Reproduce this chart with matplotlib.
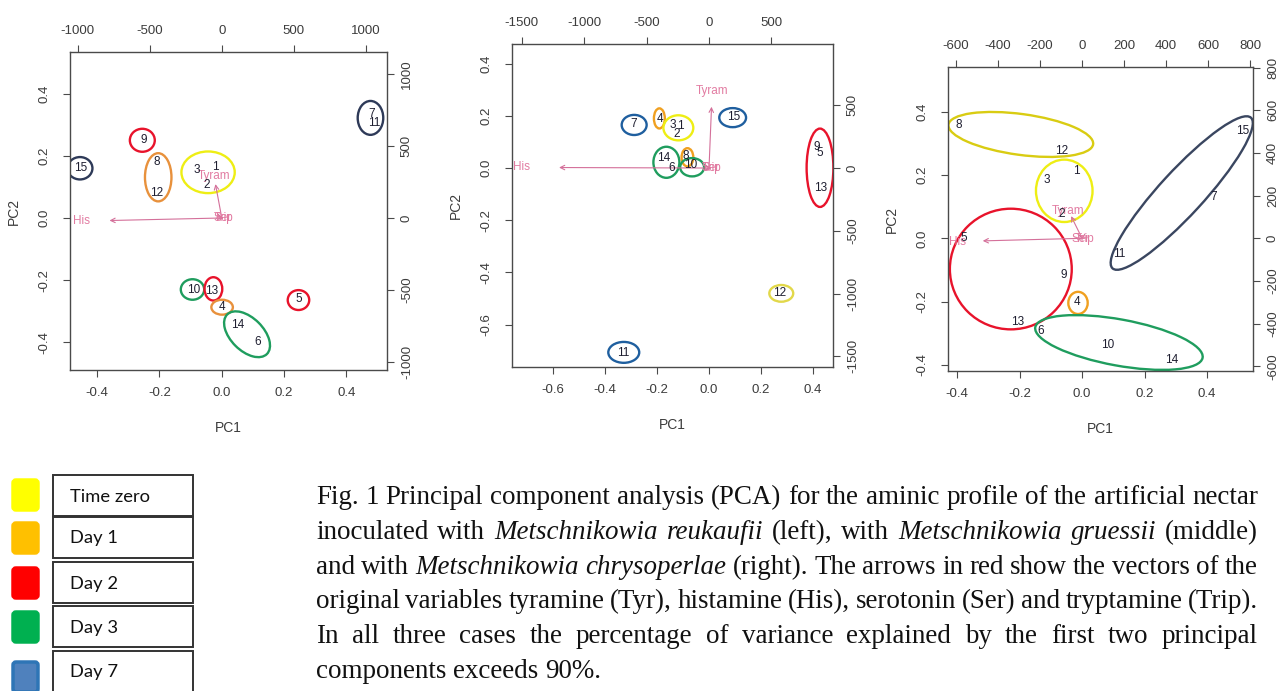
import matplotlib
matplotlib.use("Agg")
import matplotlib.pyplot as plt
from matplotlib.patches import Ellipse, Rectangle, FancyBboxPatch

plt.rcParams["axes.unicode_minus"] = False
plt.rcParams["font.family"] = ["Liberation Sans", "DejaVu Sans"]

W_PX, H_PX, DPI = 1287, 691, 100

# ---------------------------------------------------------------- data
sample_ids = ["1", "2", "3", "4", "5", "6", "7", "8", "9", "10",
              "11", "12", "13", "14", "15"]
amines = ["His", "Tyram", "Ser", "Trip"]

# Metschnikowia reukaufii: sample scores
reuk_pc1 = [-0.022, -0.048, -0.080, 0.000, 0.246, 0.114, 0.480, -0.208,
            -0.250, -0.090, 0.490, -0.208, -0.032, 0.050, -0.454]
reuk_pc2 = [0.164, 0.106, 0.154, -0.285, -0.260, -0.400, 0.335, 0.180,
            0.250, -0.232, 0.305, 0.080, -0.234, -0.345, 0.160]
# variable loadings (secondary axis units)
reuk_load1 = [-975, -55, 5, 15]
reuk_load2 = [-22, 295, -2, -3]
# sampling-day ellipses
reuk_ell_x = [-0.255, -0.455, -0.204, -0.044, 0.477, -0.094, -0.027, 0.001, 0.246, 0.081]
reuk_ell_y = [0.250, 0.160, 0.131, 0.147, 0.322, -0.230, -0.228, -0.287, -0.264, -0.374]
reuk_ell_w = [0.080, 0.080, 0.085, 0.171, 0.082, 0.075, 0.057, 0.069, 0.069, 0.180]
reuk_ell_h = [0.074, 0.072, 0.155, 0.134, 0.109, 0.066, 0.075, 0.048, 0.064, 0.105]
reuk_ell_a = [0, 0, 0, 0, 0, 0, 0, 0, 0, -45]
reuk_ell_c = ["#e8132b", "#2e3a58", "#e8913c", "#eeee14", "#2e3a58",
              "#1f9d5e", "#e8132b", "#e8913c", "#e8132b", "#1f9d5e"]

# Metschnikowia gruessii
grue_pc1 = [-0.109, -0.124, -0.140, -0.190, 0.427, -0.143, -0.288, -0.090,
            0.414, -0.070, -0.330, 0.273, 0.430, -0.173, 0.096]
grue_pc2 = [0.161, 0.129, 0.165, 0.186, 0.057, 0.000, 0.167, 0.046,
            0.082, 0.012, -0.710, -0.480, -0.078, 0.037, 0.197]
grue_load1 = [-1500, 25, 15, 25]
grue_load2 = [5, 610, -2, -2]
grue_ell_x = [-0.288, -0.191, -0.118, 0.091, 0.427, -0.164, -0.083, -0.065, 0.278, -0.328]
grue_ell_y = [0.165, 0.190, 0.154, 0.193, 0.001, 0.022, 0.041, 0.003, -0.480, -0.706]
grue_ell_w = [0.096, 0.042, 0.115, 0.103, 0.103, 0.100, 0.045, 0.092, 0.092, 0.119]
grue_ell_h = [0.077, 0.077, 0.096, 0.073, 0.300, 0.119, 0.070, 0.070, 0.064, 0.080]
grue_ell_a = [0, 0, 0, 0, 0, 0, 0, 0, 0, 0]
grue_ell_c = ["#1f5f9f", "#f0a020", "#eeee14", "#1f5f9f", "#e8132b",
              "#1f9d5e", "#f0a020", "#1f9d5e", "#e2d84a", "#1f5f9f"]

# Metschnikowia chrysoperlae
chry_pc1 = [-0.019, -0.065, -0.113, -0.015, -0.380, -0.134, 0.420, -0.394,
            -0.060, 0.081, 0.118, -0.065, -0.207, 0.287, 0.514]
chry_pc2 = [0.214, 0.078, 0.183, -0.200, 0.002, -0.293, 0.132, 0.358,
            -0.117, -0.337, -0.050, 0.277, -0.264, -0.384, 0.340]
chry_load1 = [-590, -65, -5, 10]
chry_load2 = [-15, 130, -3, -3]
chry_ell_x = [-0.196, -0.057, 0.319, -0.228, -0.013, 0.118]
chry_ell_y = [0.328, 0.150, 0.143, -0.097, -0.204, -0.329]
chry_ell_w = [0.467, 0.181, 0.650, 0.390, 0.062, 0.544]
chry_ell_h = [0.129, 0.197, 0.140, 0.381, 0.070, 0.146]
chry_ell_a = [-7.6, 0, 47, 0, 0, -10.2]
chry_ell_c = ["#d9cc12", "#eeee14", "#3a4660", "#e8132b", "#f0a020", "#1f9d5e"]

# axis settings per panel
panels = [
    dict(pc1=reuk_pc1, pc2=reuk_pc2, l1=reuk_load1, l2=reuk_load2,
         ex=reuk_ell_x, ey=reuk_ell_y, ew=reuk_ell_w, eh=reuk_ell_h,
         ea=reuk_ell_a, ec=reuk_ell_c, k=2165,
         lim=(-0.487, 0.530), ylim=(-0.489, 0.534),
         ticks=[-0.4, -0.2, 0.0, 0.2, 0.4],
         sec=[-1000, -500, 0, 500, 1000],
         box=(70, 52, 387, 370)),
    dict(pc1=grue_pc1, pc2=grue_pc2, l1=grue_load1, l2=grue_load2,
         ex=grue_ell_x, ey=grue_ell_y, ew=grue_ell_w, eh=grue_ell_h,
         ea=grue_ell_a, ec=grue_ell_c, k=2080,
         lim=(-0.758, 0.477), ylim=(-0.762, 0.475),
         ticks=[-0.6, -0.4, -0.2, 0.0, 0.2, 0.4],
         sec=[-1500, -1000, -500, 0, 500],
         box=(512, 44, 833, 367)),
    dict(pc1=chry_pc1, pc2=chry_pc2, l1=chry_load1, l2=chry_load2,
         ex=chry_ell_x, ey=chry_ell_y, ew=chry_ell_w, eh=chry_ell_h,
         ea=chry_ell_a, ec=chry_ell_c, k=1485,
         lim=(-0.429, 0.547), ylim=(-0.419, 0.541),
         ticks=[-0.4, -0.2, 0.0, 0.2, 0.4],
         sec=[-600, -400, -200, 0, 200, 400, 600, 800],
         box=(948, 67, 1253, 371)),
]

legend_labels = ["Time zero", "Day 1", "Day 2", "Day 3", "Day 7"]
legend_fill = ["#ffff00", "#ffc000", "#ff0000", "#00b050", "#4f81bd"]
legend_edge = ["#ffff00", "#ffc000", "#ff0000", "#00b050", "#2e75b6"]

caption_lines = [
    "Fig. 1 Principal component analysis (PCA) for the aminic profile of the artificial nectar",
    "inoculated with _Metschnikowia reukaufii_ (left), with _Metschnikowia gruessii_ (middle)",
    "and with _Metschnikowia chrysoperlae_ (right).  The arrows in red show the vectors of the",
    "original variables tyramine (Tyr), histamine (His), serotonin (Ser) and tryptamine (Trip).",
    "In all three cases the percentage of variance explained by the first two principal",
    "components exceeds 90%.",
]

# ---------------------------------------------------------------- figure
fig = plt.figure(figsize=(W_PX / DPI, H_PX / DPI), dpi=DPI)
fig.patch.set_facecolor("white")

over = fig.add_axes([0, 0, 1, 1])
over.set_xlim(0, W_PX)
over.set_ylim(H_PX, 0)
over.axis("off")

AX_COL = "#4a4a4a"
LAB_COL = "#3c3c3c"
ARROW_COL = "#d4709a"
VAR_COL = "#e27ca2"
PT_COL = "#1e1e30"

for p in panels:
    x0, y0, x1, y1 = p["box"]
    ax = fig.add_axes([x0 / W_PX, 1 - y1 / H_PX, (x1 - x0) / W_PX, (y1 - y0) / H_PX])
    ax.set_facecolor("none")
    ax.set_xlim(p["lim"])
    ax.set_ylim(p["ylim"])
    for s in ax.spines.values():
        s.set_color(AX_COL)
        s.set_linewidth(1.0)
    tl = [f"{t:.1f}" for t in p["ticks"]]
    ax.set_xticks(p["ticks"], labels=tl)
    ax.set_yticks(p["ticks"], labels=tl, rotation=90, va="center")
    ax.tick_params(direction="out", length=5, width=0.8, color=AX_COL,
                   labelcolor=LAB_COL, labelsize=9.5)
    ax.tick_params(axis="x", pad=7)
    ax.tick_params(axis="y", pad=9)

    k = p["k"]
    secx = ax.secondary_xaxis("top", functions=(lambda v, k=k: v * k, lambda v, k=k: v / k))
    secy = ax.secondary_yaxis("right", functions=(lambda v, k=k: v * k, lambda v, k=k: v / k))
    sl = [str(t) for t in p["sec"]]
    secx.set_xticks(p["sec"], labels=sl)
    secy.set_yticks(p["sec"], labels=sl, rotation=90, va="center")
    for sa in (secx, secy):
        sa.tick_params(direction="out", length=5, width=0.8, color=AX_COL,
                       labelcolor=LAB_COL, labelsize=9.5)
        for s in sa.spines.values():
            s.set_visible(False)
    secx.tick_params(pad=6)
    secy.tick_params(pad=5)

    ax.set_xlabel("PC1", fontsize=10, color=LAB_COL)
    ax.set_ylabel("PC2", fontsize=10, color=LAB_COL)
    h = y1 - y0
    w = x1 - x0
    ax.xaxis.set_label_coords(0.5, -51 / h)
    ax.yaxis.set_label_coords(-49 / w, 0.5)

    # sampling-day ellipses
    for cx, cy, ew, eh, ea, ec in zip(p["ex"], p["ey"], p["ew"], p["eh"], p["ea"], p["ec"]):
        ax.add_patch(Ellipse((cx, cy), ew, eh, angle=ea, fill=False,
                             edgecolor=ec, linewidth=1.7, zorder=2))

    # sample labels
    for sid, sx, sy in zip(sample_ids, p["pc1"], p["pc2"]):
        ax.text(sx, sy, sid, ha="center", va="center", fontsize=8.5,
                color=PT_COL, zorder=3)

    # variable arrows (biplot: arrows at 0.8 of the loading, labels at loading)
    for name, lx, ly in zip(amines, p["l1"], p["l2"]):
        px, py = lx / k, ly / k
        ax.annotate("", xy=(0.8 * px, 0.8 * py), xytext=(0, 0),
                    arrowprops=dict(arrowstyle="->", color=ARROW_COL, lw=0.8,
                                    mutation_scale=8, shrinkA=0, shrinkB=0),
                    zorder=2)
        ax.text(px, py, name, ha="center", va="center", fontsize=8.5,
                color=VAR_COL, zorder=2)

# ---------------------------------------------------------------- legend
renderer = fig.canvas.get_renderer()

probe = over.text(0, 0, legend_labels[0], family="Lato", fontsize=10)
leg_fs = 10 * 80 / probe.get_window_extent(renderer).width
probe.remove()

box_tops = [475, 517, 562, 606, 651]
box_h = [41, 41, 41, 41, 48]
sq_tops = [480, 523, 568, 612, 662]
for lab, fc, ecol, bt, bh, st in zip(legend_labels, legend_fill, legend_edge,
                                     box_tops, box_h, sq_tops):
    over.add_patch(FancyBboxPatch((13, st), 25, 30,
                                  boxstyle="round,pad=0,rounding_size=3",
                                  facecolor=fc, edgecolor=ecol, linewidth=2.5))
    over.add_patch(Rectangle((53, bt), 140, bh, facecolor="white",
                             edgecolor="#333333", linewidth=1.4))
    over.text(70, bt + min(bh, 41) / 2 + 1, lab, family="Lato", fontsize=leg_fs,
              color="#111111", ha="left", va="center")

# ---------------------------------------------------------------- caption
CAP_LEFT, CAP_RIGHT = 316, 1258
baselines = [504, 539, 574, 608, 643, 678]
SERIF = "Liberation Serif"


def split_words(line):
    out = []
    italic = False
    for tok in line.split():
        start = tok.startswith("_")
        if start:
            italic = True
            tok = tok[1:]
        end = tok.endswith("_") or "_" in tok
        style_it = italic
        if end:
            tok = tok.replace("_", "")
            italic = False
        out.append((tok, style_it))
    return out


probe = over.text(0, 0, caption_lines[0], family=SERIF, fontsize=10)
cap_fs = 10 * (CAP_RIGHT - CAP_LEFT) / probe.get_window_extent(renderer).width
probe.remove()
space_px = 0.25 * cap_fs * DPI / 72

for i, (line, base) in enumerate(zip(caption_lines, baselines)):
    words = split_words(line)
    texts = []
    widths = []
    for wtxt, it in words:
        t = over.text(0, base, wtxt, family=SERIF, fontsize=cap_fs,
                      style="italic" if it else "normal", color="#111111",
                      ha="left", va="baseline")
        texts.append(t)
        widths.append(t.get_window_extent(renderer).width)
    if i < len(caption_lines) - 1 and len(words) > 1:
        gap = (CAP_RIGHT - CAP_LEFT - sum(widths)) / (len(words) - 1)
    else:
        gap = space_px
    x = CAP_LEFT
    for t, wd in zip(texts, widths):
        t.set_x(x)
        x += wd + gap

fig.savefig("out.png", dpi=DPI, facecolor="white")
